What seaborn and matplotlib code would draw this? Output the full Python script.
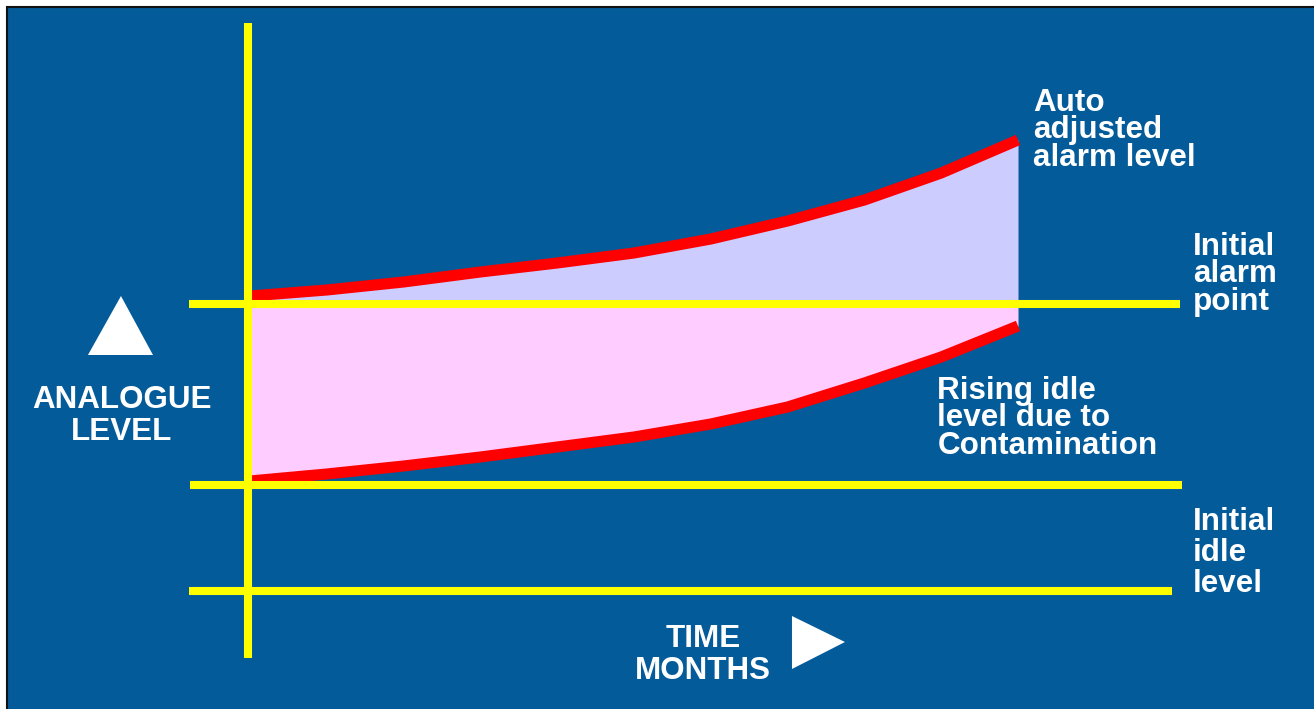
import numpy as np
import pandas as pd
import seaborn as sns
import matplotlib.pyplot as plt
from matplotlib.patches import Rectangle

# time axis (months) and analogue levels
months = [0, 1, 2, 3, 4, 5, 6, 7, 8, 9, 10]
auto_alarm_level = [29.5, 30.1, 30.9, 31.9, 32.8, 33.8, 35.2, 37.0, 39.1, 41.8, 45.1]
rising_idle_level = [11.0, 11.7, 12.5, 13.4, 14.4, 15.4, 16.7, 18.4, 20.8, 23.4, 26.5]
initial_alarm_point = 28.7
initial_idle_level = 10.6
base_level = 0.0

BLUE = "#045B99"
YELLOW = "#FFFF00"
RED = "#FF0000"
LAVENDER = "#CCCCFF"
PINK = "#FFCCFF"

sns.set_theme(style="white")
plt.rcParams["font.family"] = ["Liberation Sans", "DejaVu Sans"]

df = pd.DataFrame(
    {"Months": months, "Alarm": auto_alarm_level, "Idle": rising_idle_level}
)

fig = plt.figure(figsize=(13.14, 7.09), dpi=100)
fig.patch.set_facecolor("white")

ax = fig.add_axes([0, 0, 1, 1])
ax.set_facecolor("none")
ax.set_xlim(-250 / 76.8, 1064 / 76.8)
ax.set_ylim(-11.8, 59.1)
ax.axis("off")

# blue panel with a thin dark frame
ax.add_patch(
    Rectangle(
        (7 / 1314, -0.05),
        1.2,
        (709 - 7) / 709 + 0.05,
        transform=fig.transFigure,
        facecolor=BLUE,
        edgecolor="#111111",
        linewidth=1.5,
        zorder=0,
        clip_on=False,
    )
)

# shaded bands
ax.fill_between(df.Months, initial_alarm_point, df.Alarm, color=LAVENDER, lw=0, zorder=1)
ax.fill_between(df.Months, df.Idle, initial_alarm_point, color=PINK, lw=0, zorder=1)

# red curves
for col in ["Alarm", "Idle"]:
    sns.lineplot(
        data=df, x="Months", y=col, ax=ax, color=RED, linewidth=8,
        solid_capstyle="butt", zorder=2,
    )

# yellow reference lines
ylw = dict(color=YELLOW, linewidth=5.8, solid_capstyle="butt", zorder=3)
ax.plot([-0.79, 12.11], [initial_alarm_point] * 2, **ylw)
ax.plot([-0.78, 12.14], [initial_idle_level] * 2, **ylw)
ax.plot([-0.79, 12.0], [base_level] * 2, **ylw)
ax.plot([-0.03, -0.03], [56.8, -6.7], color=YELLOW, linewidth=5.8,
        solid_capstyle="butt", zorder=4)

# arrows
ax.fill([-1.68, -2.11, -1.263], [29.5, 23.6, 23.6], color="white", lw=0, zorder=5)
ax.fill([7.057, 7.057, 7.747], [-2.5, -7.8, -5.1], color="white", lw=0, zorder=5)

txt = dict(color="white", fontsize=22.6, fontweight="bold", va="top", zorder=6)
ax.text(10.2, 50.3, "Auto\nadjusted\nalarm level", linespacing=0.89, **txt)
ax.text(12.28, 35.9, "Initial\nalarm\npoint", linespacing=0.89, **txt)
ax.text(8.95, 21.5, "Rising idle\nlevel due to\nContamination", linespacing=0.89, **txt)
ax.text(12.28, 8.4, "Initial\nidle\nlevel", linespacing=1.04, **txt)
ax.text(-1.667, 20.6, "ANALOGUE\nLEVEL", ha="center", multialignment="center",
        linespacing=1.08, **txt)
ax.text(5.9, -3.3, "TIME\nMONTHS", ha="center", multialignment="center",
        linespacing=1.08, **txt)

plt.savefig("out.png", dpi=100)
